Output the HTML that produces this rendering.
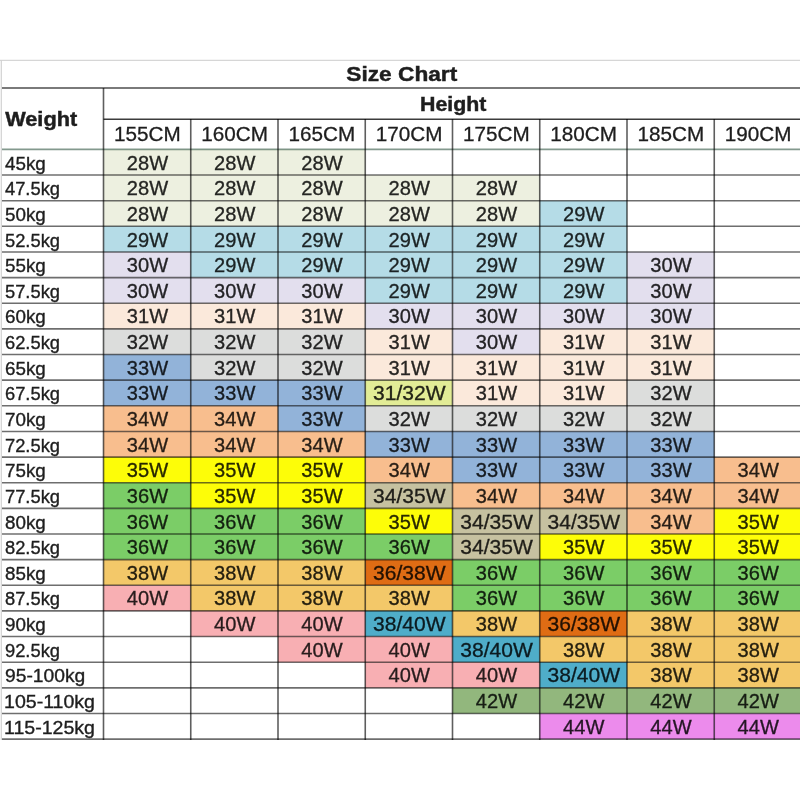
<!DOCTYPE html>
<html><head><meta charset="utf-8"><title>Size Chart</title>
<style>
html,body{margin:0;padding:0;background:#fff;}
body{width:800px;height:800px;overflow:hidden;}
svg{display:block;filter:blur(0.35px);}
text{font-family:"Liberation Sans",Arial,sans-serif;fill:#1e1e1e;stroke:#1e1e1e;stroke-width:0.3px;}
.r{font-size:19.5px;}
.b{font-weight:bold;stroke-width:0.45px;}
</style></head><body>
<svg width="800" height="800" viewBox="0 0 800 800">
<rect x="0" y="0" width="800" height="800" fill="#fff"/>
<rect x="103.5" y="149.4" width="87.25" height="25.64" fill="#EDF0E0"/>
<rect x="190.75" y="149.4" width="87.25" height="25.64" fill="#EDF0E0"/>
<rect x="278.0" y="149.4" width="87.25" height="25.64" fill="#EDF0E0"/>
<rect x="103.5" y="175.04" width="87.25" height="25.64" fill="#EDF0E0"/>
<rect x="190.75" y="175.04" width="87.25" height="25.64" fill="#EDF0E0"/>
<rect x="278.0" y="175.04" width="87.25" height="25.64" fill="#EDF0E0"/>
<rect x="365.25" y="175.04" width="87.25" height="25.64" fill="#EDF0E0"/>
<rect x="452.5" y="175.04" width="87.25" height="25.64" fill="#EDF0E0"/>
<rect x="103.5" y="200.68" width="87.25" height="25.64" fill="#EDF0E0"/>
<rect x="190.75" y="200.68" width="87.25" height="25.64" fill="#EDF0E0"/>
<rect x="278.0" y="200.68" width="87.25" height="25.64" fill="#EDF0E0"/>
<rect x="365.25" y="200.68" width="87.25" height="25.64" fill="#EDF0E0"/>
<rect x="452.5" y="200.68" width="87.25" height="25.64" fill="#EDF0E0"/>
<rect x="539.75" y="200.68" width="87.25" height="25.64" fill="#B5DCE7"/>
<rect x="103.5" y="226.32" width="87.25" height="25.64" fill="#B5DCE7"/>
<rect x="190.75" y="226.32" width="87.25" height="25.64" fill="#B5DCE7"/>
<rect x="278.0" y="226.32" width="87.25" height="25.64" fill="#B5DCE7"/>
<rect x="365.25" y="226.32" width="87.25" height="25.64" fill="#B5DCE7"/>
<rect x="452.5" y="226.32" width="87.25" height="25.64" fill="#B5DCE7"/>
<rect x="539.75" y="226.32" width="87.25" height="25.64" fill="#B5DCE7"/>
<rect x="103.5" y="251.96" width="87.25" height="25.64" fill="#E3DFEE"/>
<rect x="190.75" y="251.96" width="87.25" height="25.64" fill="#B5DCE7"/>
<rect x="278.0" y="251.96" width="87.25" height="25.64" fill="#B5DCE7"/>
<rect x="365.25" y="251.96" width="87.25" height="25.64" fill="#B5DCE7"/>
<rect x="452.5" y="251.96" width="87.25" height="25.64" fill="#B5DCE7"/>
<rect x="539.75" y="251.96" width="87.25" height="25.64" fill="#B5DCE7"/>
<rect x="627.0" y="251.96" width="87.25" height="25.64" fill="#E3DFEE"/>
<rect x="103.5" y="277.6" width="87.25" height="25.64" fill="#E3DFEE"/>
<rect x="190.75" y="277.6" width="87.25" height="25.64" fill="#E3DFEE"/>
<rect x="278.0" y="277.6" width="87.25" height="25.64" fill="#E3DFEE"/>
<rect x="365.25" y="277.6" width="87.25" height="25.64" fill="#B5DCE7"/>
<rect x="452.5" y="277.6" width="87.25" height="25.64" fill="#B5DCE7"/>
<rect x="539.75" y="277.6" width="87.25" height="25.64" fill="#B5DCE7"/>
<rect x="627.0" y="277.6" width="87.25" height="25.64" fill="#E3DFEE"/>
<rect x="103.5" y="303.24" width="87.25" height="25.64" fill="#FBE9DB"/>
<rect x="190.75" y="303.24" width="87.25" height="25.64" fill="#FBE9DB"/>
<rect x="278.0" y="303.24" width="87.25" height="25.64" fill="#FBE9DB"/>
<rect x="365.25" y="303.24" width="87.25" height="25.64" fill="#E3DFEE"/>
<rect x="452.5" y="303.24" width="87.25" height="25.64" fill="#E3DFEE"/>
<rect x="539.75" y="303.24" width="87.25" height="25.64" fill="#E3DFEE"/>
<rect x="627.0" y="303.24" width="87.25" height="25.64" fill="#E3DFEE"/>
<rect x="103.5" y="328.88" width="87.25" height="25.64" fill="#DCDDDC"/>
<rect x="190.75" y="328.88" width="87.25" height="25.64" fill="#DCDDDC"/>
<rect x="278.0" y="328.88" width="87.25" height="25.64" fill="#DCDDDC"/>
<rect x="365.25" y="328.88" width="87.25" height="25.64" fill="#FBE9DB"/>
<rect x="452.5" y="328.88" width="87.25" height="25.64" fill="#E3DFEE"/>
<rect x="539.75" y="328.88" width="87.25" height="25.64" fill="#FBE9DB"/>
<rect x="627.0" y="328.88" width="87.25" height="25.64" fill="#FBE9DB"/>
<rect x="103.5" y="354.52" width="87.25" height="25.64" fill="#92B3D9"/>
<rect x="190.75" y="354.52" width="87.25" height="25.64" fill="#DCDDDC"/>
<rect x="278.0" y="354.52" width="87.25" height="25.64" fill="#DCDDDC"/>
<rect x="365.25" y="354.52" width="87.25" height="25.64" fill="#FBE9DB"/>
<rect x="452.5" y="354.52" width="87.25" height="25.64" fill="#FBE9DB"/>
<rect x="539.75" y="354.52" width="87.25" height="25.64" fill="#FBE9DB"/>
<rect x="627.0" y="354.52" width="87.25" height="25.64" fill="#FBE9DB"/>
<rect x="103.5" y="380.16" width="87.25" height="25.64" fill="#92B3D9"/>
<rect x="190.75" y="380.16" width="87.25" height="25.64" fill="#92B3D9"/>
<rect x="278.0" y="380.16" width="87.25" height="25.64" fill="#92B3D9"/>
<rect x="365.25" y="380.16" width="87.25" height="25.64" fill="#E2EC96"/>
<rect x="452.5" y="380.16" width="87.25" height="25.64" fill="#FBE9DB"/>
<rect x="539.75" y="380.16" width="87.25" height="25.64" fill="#FBE9DB"/>
<rect x="627.0" y="380.16" width="87.25" height="25.64" fill="#DCDDDC"/>
<rect x="103.5" y="405.8" width="87.25" height="25.64" fill="#F8BE8E"/>
<rect x="190.75" y="405.8" width="87.25" height="25.64" fill="#F8BE8E"/>
<rect x="278.0" y="405.8" width="87.25" height="25.64" fill="#92B3D9"/>
<rect x="365.25" y="405.8" width="87.25" height="25.64" fill="#DCDDDC"/>
<rect x="452.5" y="405.8" width="87.25" height="25.64" fill="#DCDDDC"/>
<rect x="539.75" y="405.8" width="87.25" height="25.64" fill="#DCDDDC"/>
<rect x="627.0" y="405.8" width="87.25" height="25.64" fill="#DCDDDC"/>
<rect x="103.5" y="431.44" width="87.25" height="25.64" fill="#F8BE8E"/>
<rect x="190.75" y="431.44" width="87.25" height="25.64" fill="#F8BE8E"/>
<rect x="278.0" y="431.44" width="87.25" height="25.64" fill="#F8BE8E"/>
<rect x="365.25" y="431.44" width="87.25" height="25.64" fill="#92B3D9"/>
<rect x="452.5" y="431.44" width="87.25" height="25.64" fill="#92B3D9"/>
<rect x="539.75" y="431.44" width="87.25" height="25.64" fill="#92B3D9"/>
<rect x="627.0" y="431.44" width="87.25" height="25.64" fill="#92B3D9"/>
<rect x="103.5" y="457.08" width="87.25" height="25.64" fill="#FDFD08"/>
<rect x="190.75" y="457.08" width="87.25" height="25.64" fill="#FDFD08"/>
<rect x="278.0" y="457.08" width="87.25" height="25.64" fill="#FDFD08"/>
<rect x="365.25" y="457.08" width="87.25" height="25.64" fill="#F8BE8E"/>
<rect x="452.5" y="457.08" width="87.25" height="25.64" fill="#92B3D9"/>
<rect x="539.75" y="457.08" width="87.25" height="25.64" fill="#92B3D9"/>
<rect x="627.0" y="457.08" width="87.25" height="25.64" fill="#92B3D9"/>
<rect x="714.25" y="457.08" width="87.25" height="25.64" fill="#F8BE8E"/>
<rect x="103.5" y="482.72" width="87.25" height="25.64" fill="#7BCD67"/>
<rect x="190.75" y="482.72" width="87.25" height="25.64" fill="#FDFD08"/>
<rect x="278.0" y="482.72" width="87.25" height="25.64" fill="#FDFD08"/>
<rect x="365.25" y="482.72" width="87.25" height="25.64" fill="#C6C1A0"/>
<rect x="452.5" y="482.72" width="87.25" height="25.64" fill="#F8BE8E"/>
<rect x="539.75" y="482.72" width="87.25" height="25.64" fill="#F8BE8E"/>
<rect x="627.0" y="482.72" width="87.25" height="25.64" fill="#F8BE8E"/>
<rect x="714.25" y="482.72" width="87.25" height="25.64" fill="#F8BE8E"/>
<rect x="103.5" y="508.36" width="87.25" height="25.64" fill="#7BCD67"/>
<rect x="190.75" y="508.36" width="87.25" height="25.64" fill="#7BCD67"/>
<rect x="278.0" y="508.36" width="87.25" height="25.64" fill="#7BCD67"/>
<rect x="365.25" y="508.36" width="87.25" height="25.64" fill="#FDFD08"/>
<rect x="452.5" y="508.36" width="87.25" height="25.64" fill="#C6C1A0"/>
<rect x="539.75" y="508.36" width="87.25" height="25.64" fill="#C6C1A0"/>
<rect x="627.0" y="508.36" width="87.25" height="25.64" fill="#F8BE8E"/>
<rect x="714.25" y="508.36" width="87.25" height="25.64" fill="#FDFD08"/>
<rect x="103.5" y="534.0" width="87.25" height="25.64" fill="#7BCD67"/>
<rect x="190.75" y="534.0" width="87.25" height="25.64" fill="#7BCD67"/>
<rect x="278.0" y="534.0" width="87.25" height="25.64" fill="#7BCD67"/>
<rect x="365.25" y="534.0" width="87.25" height="25.64" fill="#7BCD67"/>
<rect x="452.5" y="534.0" width="87.25" height="25.64" fill="#C6C1A0"/>
<rect x="539.75" y="534.0" width="87.25" height="25.64" fill="#FDFD08"/>
<rect x="627.0" y="534.0" width="87.25" height="25.64" fill="#FDFD08"/>
<rect x="714.25" y="534.0" width="87.25" height="25.64" fill="#FDFD08"/>
<rect x="103.5" y="559.64" width="87.25" height="25.64" fill="#F3C869"/>
<rect x="190.75" y="559.64" width="87.25" height="25.64" fill="#F3C869"/>
<rect x="278.0" y="559.64" width="87.25" height="25.64" fill="#F3C869"/>
<rect x="365.25" y="559.64" width="87.25" height="25.64" fill="#DF6C14"/>
<rect x="452.5" y="559.64" width="87.25" height="25.64" fill="#7BCD67"/>
<rect x="539.75" y="559.64" width="87.25" height="25.64" fill="#7BCD67"/>
<rect x="627.0" y="559.64" width="87.25" height="25.64" fill="#7BCD67"/>
<rect x="714.25" y="559.64" width="87.25" height="25.64" fill="#7BCD67"/>
<rect x="103.5" y="585.28" width="87.25" height="25.64" fill="#F8AFB3"/>
<rect x="190.75" y="585.28" width="87.25" height="25.64" fill="#F3C869"/>
<rect x="278.0" y="585.28" width="87.25" height="25.64" fill="#F3C869"/>
<rect x="365.25" y="585.28" width="87.25" height="25.64" fill="#F3C869"/>
<rect x="452.5" y="585.28" width="87.25" height="25.64" fill="#7BCD67"/>
<rect x="539.75" y="585.28" width="87.25" height="25.64" fill="#7BCD67"/>
<rect x="627.0" y="585.28" width="87.25" height="25.64" fill="#7BCD67"/>
<rect x="714.25" y="585.28" width="87.25" height="25.64" fill="#7BCD67"/>
<rect x="190.75" y="610.92" width="87.25" height="25.64" fill="#F8AFB3"/>
<rect x="278.0" y="610.92" width="87.25" height="25.64" fill="#F8AFB3"/>
<rect x="365.25" y="610.92" width="87.25" height="25.64" fill="#4FADC9"/>
<rect x="452.5" y="610.92" width="87.25" height="25.64" fill="#F3C869"/>
<rect x="539.75" y="610.92" width="87.25" height="25.64" fill="#DF6C14"/>
<rect x="627.0" y="610.92" width="87.25" height="25.64" fill="#F3C869"/>
<rect x="714.25" y="610.92" width="87.25" height="25.64" fill="#F3C869"/>
<rect x="278.0" y="636.56" width="87.25" height="25.64" fill="#F8AFB3"/>
<rect x="365.25" y="636.56" width="87.25" height="25.64" fill="#F8AFB3"/>
<rect x="452.5" y="636.56" width="87.25" height="25.64" fill="#4FADC9"/>
<rect x="539.75" y="636.56" width="87.25" height="25.64" fill="#F3C869"/>
<rect x="627.0" y="636.56" width="87.25" height="25.64" fill="#F3C869"/>
<rect x="714.25" y="636.56" width="87.25" height="25.64" fill="#F3C869"/>
<rect x="365.25" y="662.2" width="87.25" height="25.64" fill="#F8AFB3"/>
<rect x="452.5" y="662.2" width="87.25" height="25.64" fill="#F8AFB3"/>
<rect x="539.75" y="662.2" width="87.25" height="25.64" fill="#4FADC9"/>
<rect x="627.0" y="662.2" width="87.25" height="25.64" fill="#F3C869"/>
<rect x="714.25" y="662.2" width="87.25" height="25.64" fill="#F3C869"/>
<rect x="452.5" y="687.84" width="87.25" height="25.64" fill="#92B77D"/>
<rect x="539.75" y="687.84" width="87.25" height="25.64" fill="#92B77D"/>
<rect x="627.0" y="687.84" width="87.25" height="25.64" fill="#92B77D"/>
<rect x="714.25" y="687.84" width="87.25" height="25.64" fill="#92B77D"/>
<rect x="539.75" y="713.48" width="87.25" height="25.64" fill="#EC8BEC"/>
<rect x="627.0" y="713.48" width="87.25" height="25.64" fill="#EC8BEC"/>
<rect x="714.25" y="713.48" width="87.25" height="25.64" fill="#EC8BEC"/>
<line x1="0" y1="60.4" x2="800" y2="60.4" stroke="#d6d6d6" stroke-width="1.2"/>
<line x1="1.3" y1="60" x2="1.3" y2="740" stroke="#d2d2d2" stroke-width="1.2"/>
<line x1="2" y1="87.9" x2="800" y2="87.9" stroke="#7a7a7a" stroke-width="2"/>
<line x1="103.5" y1="119.2" x2="800" y2="119.2" stroke="#3c3c3c" stroke-width="1.4"/>
<line x1="2" y1="149.4" x2="800" y2="149.4" stroke="rgba(30,70,50,0.55)" stroke-width="1.6"/>
<line x1="2" y1="175.04" x2="800" y2="175.04" stroke="rgba(0,0,0,0.57)" stroke-width="1.6"/>
<line x1="2" y1="200.68" x2="800" y2="200.68" stroke="rgba(0,0,0,0.57)" stroke-width="1.6"/>
<line x1="2" y1="226.32" x2="800" y2="226.32" stroke="rgba(0,0,0,0.57)" stroke-width="1.6"/>
<line x1="2" y1="251.96" x2="800" y2="251.96" stroke="rgba(0,0,0,0.57)" stroke-width="1.6"/>
<line x1="2" y1="277.6" x2="800" y2="277.6" stroke="rgba(0,0,0,0.57)" stroke-width="1.6"/>
<line x1="2" y1="303.24" x2="800" y2="303.24" stroke="rgba(0,0,0,0.57)" stroke-width="1.6"/>
<line x1="2" y1="328.88" x2="800" y2="328.88" stroke="rgba(0,0,0,0.57)" stroke-width="1.6"/>
<line x1="2" y1="354.52" x2="800" y2="354.52" stroke="rgba(0,0,0,0.57)" stroke-width="1.6"/>
<line x1="2" y1="380.16" x2="800" y2="380.16" stroke="rgba(0,0,0,0.57)" stroke-width="1.6"/>
<line x1="2" y1="405.8" x2="800" y2="405.8" stroke="rgba(0,0,0,0.57)" stroke-width="1.6"/>
<line x1="2" y1="431.44" x2="800" y2="431.44" stroke="rgba(0,0,0,0.57)" stroke-width="1.6"/>
<line x1="2" y1="457.08" x2="800" y2="457.08" stroke="rgba(0,0,0,0.57)" stroke-width="1.6"/>
<line x1="2" y1="482.72" x2="800" y2="482.72" stroke="rgba(0,0,0,0.57)" stroke-width="1.6"/>
<line x1="2" y1="508.36" x2="800" y2="508.36" stroke="rgba(0,0,0,0.57)" stroke-width="1.6"/>
<line x1="2" y1="534.0" x2="800" y2="534.0" stroke="rgba(0,0,0,0.57)" stroke-width="1.6"/>
<line x1="2" y1="559.64" x2="800" y2="559.64" stroke="rgba(0,0,0,0.57)" stroke-width="1.6"/>
<line x1="2" y1="585.28" x2="800" y2="585.28" stroke="rgba(0,0,0,0.57)" stroke-width="1.6"/>
<line x1="2" y1="610.92" x2="800" y2="610.92" stroke="rgba(0,0,0,0.57)" stroke-width="1.6"/>
<line x1="2" y1="636.56" x2="800" y2="636.56" stroke="rgba(0,0,0,0.57)" stroke-width="1.6"/>
<line x1="2" y1="662.2" x2="800" y2="662.2" stroke="rgba(0,0,0,0.57)" stroke-width="1.6"/>
<line x1="2" y1="687.84" x2="800" y2="687.84" stroke="rgba(0,0,0,0.57)" stroke-width="1.6"/>
<line x1="2" y1="713.48" x2="800" y2="713.48" stroke="rgba(0,0,0,0.57)" stroke-width="1.6"/>
<line x1="2" y1="739.12" x2="800" y2="739.12" stroke="rgba(0,0,0,0.57)" stroke-width="1.6"/>
<line x1="103.5" y1="88" x2="103.5" y2="739.92" stroke="rgba(0,0,0,0.63)" stroke-width="1.6"/>
<line x1="190.75" y1="119" x2="190.75" y2="739.92" stroke="rgba(0,0,0,0.63)" stroke-width="1.6"/>
<line x1="278.0" y1="119" x2="278.0" y2="739.92" stroke="rgba(0,0,0,0.63)" stroke-width="1.6"/>
<line x1="365.25" y1="119" x2="365.25" y2="739.92" stroke="rgba(0,0,0,0.63)" stroke-width="1.6"/>
<line x1="452.5" y1="119" x2="452.5" y2="739.92" stroke="rgba(0,0,0,0.63)" stroke-width="1.6"/>
<line x1="539.75" y1="119" x2="539.75" y2="739.92" stroke="rgba(0,0,0,0.63)" stroke-width="1.6"/>
<line x1="627.0" y1="119" x2="627.0" y2="739.92" stroke="rgba(0,0,0,0.63)" stroke-width="1.6"/>
<line x1="714.25" y1="119" x2="714.25" y2="739.92" stroke="rgba(0,0,0,0.63)" stroke-width="1.6"/>
<text x="147.53" y="169.6" class="r" style="fill:#252623;stroke:#252623" text-anchor="middle" textLength="41.3" lengthAdjust="spacingAndGlyphs">28W</text>
<text x="234.78" y="169.6" class="r" style="fill:#252623;stroke:#252623" text-anchor="middle" textLength="41.3" lengthAdjust="spacingAndGlyphs">28W</text>
<text x="322.02" y="169.6" class="r" style="fill:#252623;stroke:#252623" text-anchor="middle" textLength="41.3" lengthAdjust="spacingAndGlyphs">28W</text>
<text x="147.53" y="195.24" class="r" style="fill:#252623;stroke:#252623" text-anchor="middle" textLength="41.3" lengthAdjust="spacingAndGlyphs">28W</text>
<text x="234.78" y="195.24" class="r" style="fill:#252623;stroke:#252623" text-anchor="middle" textLength="41.3" lengthAdjust="spacingAndGlyphs">28W</text>
<text x="322.02" y="195.24" class="r" style="fill:#252623;stroke:#252623" text-anchor="middle" textLength="41.3" lengthAdjust="spacingAndGlyphs">28W</text>
<text x="409.27" y="195.24" class="r" style="fill:#252623;stroke:#252623" text-anchor="middle" textLength="41.3" lengthAdjust="spacingAndGlyphs">28W</text>
<text x="496.52" y="195.24" class="r" style="fill:#252623;stroke:#252623" text-anchor="middle" textLength="41.3" lengthAdjust="spacingAndGlyphs">28W</text>
<text x="147.53" y="220.88" class="r" style="fill:#252623;stroke:#252623" text-anchor="middle" textLength="41.3" lengthAdjust="spacingAndGlyphs">28W</text>
<text x="234.78" y="220.88" class="r" style="fill:#252623;stroke:#252623" text-anchor="middle" textLength="41.3" lengthAdjust="spacingAndGlyphs">28W</text>
<text x="322.02" y="220.88" class="r" style="fill:#252623;stroke:#252623" text-anchor="middle" textLength="41.3" lengthAdjust="spacingAndGlyphs">28W</text>
<text x="409.27" y="220.88" class="r" style="fill:#252623;stroke:#252623" text-anchor="middle" textLength="41.3" lengthAdjust="spacingAndGlyphs">28W</text>
<text x="496.52" y="220.88" class="r" style="fill:#252623;stroke:#252623" text-anchor="middle" textLength="41.3" lengthAdjust="spacingAndGlyphs">28W</text>
<text x="583.77" y="220.88" class="r" style="fill:#1c2324;stroke:#1c2324" text-anchor="middle" textLength="41.3" lengthAdjust="spacingAndGlyphs">29W</text>
<text x="147.53" y="246.52" class="r" style="fill:#1c2324;stroke:#1c2324" text-anchor="middle" textLength="41.3" lengthAdjust="spacingAndGlyphs">29W</text>
<text x="234.78" y="246.52" class="r" style="fill:#1c2324;stroke:#1c2324" text-anchor="middle" textLength="41.3" lengthAdjust="spacingAndGlyphs">29W</text>
<text x="322.02" y="246.52" class="r" style="fill:#1c2324;stroke:#1c2324" text-anchor="middle" textLength="41.3" lengthAdjust="spacingAndGlyphs">29W</text>
<text x="409.27" y="246.52" class="r" style="fill:#1c2324;stroke:#1c2324" text-anchor="middle" textLength="41.3" lengthAdjust="spacingAndGlyphs">29W</text>
<text x="496.52" y="246.52" class="r" style="fill:#1c2324;stroke:#1c2324" text-anchor="middle" textLength="41.3" lengthAdjust="spacingAndGlyphs">29W</text>
<text x="583.77" y="246.52" class="r" style="fill:#1c2324;stroke:#1c2324" text-anchor="middle" textLength="41.3" lengthAdjust="spacingAndGlyphs">29W</text>
<text x="147.53" y="272.16" class="r" style="fill:#242326;stroke:#242326" text-anchor="middle" textLength="41.3" lengthAdjust="spacingAndGlyphs">30W</text>
<text x="234.78" y="272.16" class="r" style="fill:#1c2324;stroke:#1c2324" text-anchor="middle" textLength="41.3" lengthAdjust="spacingAndGlyphs">29W</text>
<text x="322.02" y="272.16" class="r" style="fill:#1c2324;stroke:#1c2324" text-anchor="middle" textLength="41.3" lengthAdjust="spacingAndGlyphs">29W</text>
<text x="409.27" y="272.16" class="r" style="fill:#1c2324;stroke:#1c2324" text-anchor="middle" textLength="41.3" lengthAdjust="spacingAndGlyphs">29W</text>
<text x="496.52" y="272.16" class="r" style="fill:#1c2324;stroke:#1c2324" text-anchor="middle" textLength="41.3" lengthAdjust="spacingAndGlyphs">29W</text>
<text x="583.77" y="272.16" class="r" style="fill:#1c2324;stroke:#1c2324" text-anchor="middle" textLength="41.3" lengthAdjust="spacingAndGlyphs">29W</text>
<text x="671.02" y="272.16" class="r" style="fill:#242326;stroke:#242326" text-anchor="middle" textLength="41.3" lengthAdjust="spacingAndGlyphs">30W</text>
<text x="147.53" y="297.8" class="r" style="fill:#242326;stroke:#242326" text-anchor="middle" textLength="41.3" lengthAdjust="spacingAndGlyphs">30W</text>
<text x="234.78" y="297.8" class="r" style="fill:#242326;stroke:#242326" text-anchor="middle" textLength="41.3" lengthAdjust="spacingAndGlyphs">30W</text>
<text x="322.02" y="297.8" class="r" style="fill:#242326;stroke:#242326" text-anchor="middle" textLength="41.3" lengthAdjust="spacingAndGlyphs">30W</text>
<text x="409.27" y="297.8" class="r" style="fill:#1c2324;stroke:#1c2324" text-anchor="middle" textLength="41.3" lengthAdjust="spacingAndGlyphs">29W</text>
<text x="496.52" y="297.8" class="r" style="fill:#1c2324;stroke:#1c2324" text-anchor="middle" textLength="41.3" lengthAdjust="spacingAndGlyphs">29W</text>
<text x="583.77" y="297.8" class="r" style="fill:#1c2324;stroke:#1c2324" text-anchor="middle" textLength="41.3" lengthAdjust="spacingAndGlyphs">29W</text>
<text x="671.02" y="297.8" class="r" style="fill:#242326;stroke:#242326" text-anchor="middle" textLength="41.3" lengthAdjust="spacingAndGlyphs">30W</text>
<text x="147.53" y="323.44" class="r" style="fill:#282523;stroke:#282523" text-anchor="middle" textLength="41.3" lengthAdjust="spacingAndGlyphs">31W</text>
<text x="234.78" y="323.44" class="r" style="fill:#282523;stroke:#282523" text-anchor="middle" textLength="41.3" lengthAdjust="spacingAndGlyphs">31W</text>
<text x="322.02" y="323.44" class="r" style="fill:#282523;stroke:#282523" text-anchor="middle" textLength="41.3" lengthAdjust="spacingAndGlyphs">31W</text>
<text x="409.27" y="323.44" class="r" style="fill:#242326;stroke:#242326" text-anchor="middle" textLength="41.3" lengthAdjust="spacingAndGlyphs">30W</text>
<text x="496.52" y="323.44" class="r" style="fill:#242326;stroke:#242326" text-anchor="middle" textLength="41.3" lengthAdjust="spacingAndGlyphs">30W</text>
<text x="583.77" y="323.44" class="r" style="fill:#242326;stroke:#242326" text-anchor="middle" textLength="41.3" lengthAdjust="spacingAndGlyphs">30W</text>
<text x="671.02" y="323.44" class="r" style="fill:#242326;stroke:#242326" text-anchor="middle" textLength="41.3" lengthAdjust="spacingAndGlyphs">30W</text>
<text x="147.53" y="349.08" class="r" style="fill:#232323;stroke:#232323" text-anchor="middle" textLength="41.3" lengthAdjust="spacingAndGlyphs">32W</text>
<text x="234.78" y="349.08" class="r" style="fill:#232323;stroke:#232323" text-anchor="middle" textLength="41.3" lengthAdjust="spacingAndGlyphs">32W</text>
<text x="322.02" y="349.08" class="r" style="fill:#232323;stroke:#232323" text-anchor="middle" textLength="41.3" lengthAdjust="spacingAndGlyphs">32W</text>
<text x="409.27" y="349.08" class="r" style="fill:#282523;stroke:#282523" text-anchor="middle" textLength="41.3" lengthAdjust="spacingAndGlyphs">31W</text>
<text x="496.52" y="349.08" class="r" style="fill:#242326;stroke:#242326" text-anchor="middle" textLength="41.3" lengthAdjust="spacingAndGlyphs">30W</text>
<text x="583.77" y="349.08" class="r" style="fill:#282523;stroke:#282523" text-anchor="middle" textLength="41.3" lengthAdjust="spacingAndGlyphs">31W</text>
<text x="671.02" y="349.08" class="r" style="fill:#282523;stroke:#282523" text-anchor="middle" textLength="41.3" lengthAdjust="spacingAndGlyphs">31W</text>
<text x="147.53" y="374.72" class="r" style="fill:#171c22;stroke:#171c22" text-anchor="middle" textLength="41.3" lengthAdjust="spacingAndGlyphs">33W</text>
<text x="234.78" y="374.72" class="r" style="fill:#232323;stroke:#232323" text-anchor="middle" textLength="41.3" lengthAdjust="spacingAndGlyphs">32W</text>
<text x="322.02" y="374.72" class="r" style="fill:#232323;stroke:#232323" text-anchor="middle" textLength="41.3" lengthAdjust="spacingAndGlyphs">32W</text>
<text x="409.27" y="374.72" class="r" style="fill:#282523;stroke:#282523" text-anchor="middle" textLength="41.3" lengthAdjust="spacingAndGlyphs">31W</text>
<text x="496.52" y="374.72" class="r" style="fill:#282523;stroke:#282523" text-anchor="middle" textLength="41.3" lengthAdjust="spacingAndGlyphs">31W</text>
<text x="583.77" y="374.72" class="r" style="fill:#282523;stroke:#282523" text-anchor="middle" textLength="41.3" lengthAdjust="spacingAndGlyphs">31W</text>
<text x="671.02" y="374.72" class="r" style="fill:#282523;stroke:#282523" text-anchor="middle" textLength="41.3" lengthAdjust="spacingAndGlyphs">31W</text>
<text x="147.53" y="400.36" class="r" style="fill:#171c22;stroke:#171c22" text-anchor="middle" textLength="41.3" lengthAdjust="spacingAndGlyphs">33W</text>
<text x="234.78" y="400.36" class="r" style="fill:#171c22;stroke:#171c22" text-anchor="middle" textLength="41.3" lengthAdjust="spacingAndGlyphs">33W</text>
<text x="322.02" y="400.36" class="r" style="fill:#171c22;stroke:#171c22" text-anchor="middle" textLength="41.3" lengthAdjust="spacingAndGlyphs">33W</text>
<text x="409.27" y="400.36" class="r" style="fill:#242518;stroke:#242518" text-anchor="middle" textLength="72.5" lengthAdjust="spacingAndGlyphs">31/32W</text>
<text x="496.52" y="400.36" class="r" style="fill:#282523;stroke:#282523" text-anchor="middle" textLength="41.3" lengthAdjust="spacingAndGlyphs">31W</text>
<text x="583.77" y="400.36" class="r" style="fill:#282523;stroke:#282523" text-anchor="middle" textLength="41.3" lengthAdjust="spacingAndGlyphs">31W</text>
<text x="671.02" y="400.36" class="r" style="fill:#232323;stroke:#232323" text-anchor="middle" textLength="41.3" lengthAdjust="spacingAndGlyphs">32W</text>
<text x="147.53" y="426.0" class="r" style="fill:#271e16;stroke:#271e16" text-anchor="middle" textLength="41.3" lengthAdjust="spacingAndGlyphs">34W</text>
<text x="234.78" y="426.0" class="r" style="fill:#271e16;stroke:#271e16" text-anchor="middle" textLength="41.3" lengthAdjust="spacingAndGlyphs">34W</text>
<text x="322.02" y="426.0" class="r" style="fill:#171c22;stroke:#171c22" text-anchor="middle" textLength="41.3" lengthAdjust="spacingAndGlyphs">33W</text>
<text x="409.27" y="426.0" class="r" style="fill:#232323;stroke:#232323" text-anchor="middle" textLength="41.3" lengthAdjust="spacingAndGlyphs">32W</text>
<text x="496.52" y="426.0" class="r" style="fill:#232323;stroke:#232323" text-anchor="middle" textLength="41.3" lengthAdjust="spacingAndGlyphs">32W</text>
<text x="583.77" y="426.0" class="r" style="fill:#232323;stroke:#232323" text-anchor="middle" textLength="41.3" lengthAdjust="spacingAndGlyphs">32W</text>
<text x="671.02" y="426.0" class="r" style="fill:#232323;stroke:#232323" text-anchor="middle" textLength="41.3" lengthAdjust="spacingAndGlyphs">32W</text>
<text x="147.53" y="451.64" class="r" style="fill:#271e16;stroke:#271e16" text-anchor="middle" textLength="41.3" lengthAdjust="spacingAndGlyphs">34W</text>
<text x="234.78" y="451.64" class="r" style="fill:#271e16;stroke:#271e16" text-anchor="middle" textLength="41.3" lengthAdjust="spacingAndGlyphs">34W</text>
<text x="322.02" y="451.64" class="r" style="fill:#271e16;stroke:#271e16" text-anchor="middle" textLength="41.3" lengthAdjust="spacingAndGlyphs">34W</text>
<text x="409.27" y="451.64" class="r" style="fill:#171c22;stroke:#171c22" text-anchor="middle" textLength="41.3" lengthAdjust="spacingAndGlyphs">33W</text>
<text x="496.52" y="451.64" class="r" style="fill:#171c22;stroke:#171c22" text-anchor="middle" textLength="41.3" lengthAdjust="spacingAndGlyphs">33W</text>
<text x="583.77" y="451.64" class="r" style="fill:#171c22;stroke:#171c22" text-anchor="middle" textLength="41.3" lengthAdjust="spacingAndGlyphs">33W</text>
<text x="671.02" y="451.64" class="r" style="fill:#171c22;stroke:#171c22" text-anchor="middle" textLength="41.3" lengthAdjust="spacingAndGlyphs">33W</text>
<text x="147.53" y="477.28" class="r" style="fill:#282801;stroke:#282801" text-anchor="middle" textLength="41.3" lengthAdjust="spacingAndGlyphs">35W</text>
<text x="234.78" y="477.28" class="r" style="fill:#282801;stroke:#282801" text-anchor="middle" textLength="41.3" lengthAdjust="spacingAndGlyphs">35W</text>
<text x="322.02" y="477.28" class="r" style="fill:#282801;stroke:#282801" text-anchor="middle" textLength="41.3" lengthAdjust="spacingAndGlyphs">35W</text>
<text x="409.27" y="477.28" class="r" style="fill:#271e16;stroke:#271e16" text-anchor="middle" textLength="41.3" lengthAdjust="spacingAndGlyphs">34W</text>
<text x="496.52" y="477.28" class="r" style="fill:#171c22;stroke:#171c22" text-anchor="middle" textLength="41.3" lengthAdjust="spacingAndGlyphs">33W</text>
<text x="583.77" y="477.28" class="r" style="fill:#171c22;stroke:#171c22" text-anchor="middle" textLength="41.3" lengthAdjust="spacingAndGlyphs">33W</text>
<text x="671.02" y="477.28" class="r" style="fill:#171c22;stroke:#171c22" text-anchor="middle" textLength="41.3" lengthAdjust="spacingAndGlyphs">33W</text>
<text x="758.27" y="477.28" class="r" style="fill:#271e16;stroke:#271e16" text-anchor="middle" textLength="41.3" lengthAdjust="spacingAndGlyphs">34W</text>
<text x="147.53" y="502.92" class="r" style="fill:#132010;stroke:#132010" text-anchor="middle" textLength="41.3" lengthAdjust="spacingAndGlyphs">36W</text>
<text x="234.78" y="502.92" class="r" style="fill:#282801;stroke:#282801" text-anchor="middle" textLength="41.3" lengthAdjust="spacingAndGlyphs">35W</text>
<text x="322.02" y="502.92" class="r" style="fill:#282801;stroke:#282801" text-anchor="middle" textLength="41.3" lengthAdjust="spacingAndGlyphs">35W</text>
<text x="409.27" y="502.92" class="r" style="fill:#1f1e19;stroke:#1f1e19" text-anchor="middle" textLength="72.5" lengthAdjust="spacingAndGlyphs">34/35W</text>
<text x="496.52" y="502.92" class="r" style="fill:#271e16;stroke:#271e16" text-anchor="middle" textLength="41.3" lengthAdjust="spacingAndGlyphs">34W</text>
<text x="583.77" y="502.92" class="r" style="fill:#271e16;stroke:#271e16" text-anchor="middle" textLength="41.3" lengthAdjust="spacingAndGlyphs">34W</text>
<text x="671.02" y="502.92" class="r" style="fill:#271e16;stroke:#271e16" text-anchor="middle" textLength="41.3" lengthAdjust="spacingAndGlyphs">34W</text>
<text x="758.27" y="502.92" class="r" style="fill:#271e16;stroke:#271e16" text-anchor="middle" textLength="41.3" lengthAdjust="spacingAndGlyphs">34W</text>
<text x="147.53" y="528.56" class="r" style="fill:#132010;stroke:#132010" text-anchor="middle" textLength="41.3" lengthAdjust="spacingAndGlyphs">36W</text>
<text x="234.78" y="528.56" class="r" style="fill:#132010;stroke:#132010" text-anchor="middle" textLength="41.3" lengthAdjust="spacingAndGlyphs">36W</text>
<text x="322.02" y="528.56" class="r" style="fill:#132010;stroke:#132010" text-anchor="middle" textLength="41.3" lengthAdjust="spacingAndGlyphs">36W</text>
<text x="409.27" y="528.56" class="r" style="fill:#282801;stroke:#282801" text-anchor="middle" textLength="41.3" lengthAdjust="spacingAndGlyphs">35W</text>
<text x="496.52" y="528.56" class="r" style="fill:#1f1e19;stroke:#1f1e19" text-anchor="middle" textLength="72.5" lengthAdjust="spacingAndGlyphs">34/35W</text>
<text x="583.77" y="528.56" class="r" style="fill:#1f1e19;stroke:#1f1e19" text-anchor="middle" textLength="72.5" lengthAdjust="spacingAndGlyphs">34/35W</text>
<text x="671.02" y="528.56" class="r" style="fill:#271e16;stroke:#271e16" text-anchor="middle" textLength="41.3" lengthAdjust="spacingAndGlyphs">34W</text>
<text x="758.27" y="528.56" class="r" style="fill:#282801;stroke:#282801" text-anchor="middle" textLength="41.3" lengthAdjust="spacingAndGlyphs">35W</text>
<text x="147.53" y="554.2" class="r" style="fill:#132010;stroke:#132010" text-anchor="middle" textLength="41.3" lengthAdjust="spacingAndGlyphs">36W</text>
<text x="234.78" y="554.2" class="r" style="fill:#132010;stroke:#132010" text-anchor="middle" textLength="41.3" lengthAdjust="spacingAndGlyphs">36W</text>
<text x="322.02" y="554.2" class="r" style="fill:#132010;stroke:#132010" text-anchor="middle" textLength="41.3" lengthAdjust="spacingAndGlyphs">36W</text>
<text x="409.27" y="554.2" class="r" style="fill:#132010;stroke:#132010" text-anchor="middle" textLength="41.3" lengthAdjust="spacingAndGlyphs">36W</text>
<text x="496.52" y="554.2" class="r" style="fill:#1f1e19;stroke:#1f1e19" text-anchor="middle" textLength="72.5" lengthAdjust="spacingAndGlyphs">34/35W</text>
<text x="583.77" y="554.2" class="r" style="fill:#282801;stroke:#282801" text-anchor="middle" textLength="41.3" lengthAdjust="spacingAndGlyphs">35W</text>
<text x="671.02" y="554.2" class="r" style="fill:#282801;stroke:#282801" text-anchor="middle" textLength="41.3" lengthAdjust="spacingAndGlyphs">35W</text>
<text x="758.27" y="554.2" class="r" style="fill:#282801;stroke:#282801" text-anchor="middle" textLength="41.3" lengthAdjust="spacingAndGlyphs">35W</text>
<text x="147.53" y="579.84" class="r" style="fill:#262010;stroke:#262010" text-anchor="middle" textLength="41.3" lengthAdjust="spacingAndGlyphs">38W</text>
<text x="234.78" y="579.84" class="r" style="fill:#262010;stroke:#262010" text-anchor="middle" textLength="41.3" lengthAdjust="spacingAndGlyphs">38W</text>
<text x="322.02" y="579.84" class="r" style="fill:#262010;stroke:#262010" text-anchor="middle" textLength="41.3" lengthAdjust="spacingAndGlyphs">38W</text>
<text x="409.27" y="579.84" class="r" style="fill:#231103;stroke:#231103" text-anchor="middle" textLength="72.5" lengthAdjust="spacingAndGlyphs">36/38W</text>
<text x="496.52" y="579.84" class="r" style="fill:#132010;stroke:#132010" text-anchor="middle" textLength="41.3" lengthAdjust="spacingAndGlyphs">36W</text>
<text x="583.77" y="579.84" class="r" style="fill:#132010;stroke:#132010" text-anchor="middle" textLength="41.3" lengthAdjust="spacingAndGlyphs">36W</text>
<text x="671.02" y="579.84" class="r" style="fill:#132010;stroke:#132010" text-anchor="middle" textLength="41.3" lengthAdjust="spacingAndGlyphs">36W</text>
<text x="758.27" y="579.84" class="r" style="fill:#132010;stroke:#132010" text-anchor="middle" textLength="41.3" lengthAdjust="spacingAndGlyphs">36W</text>
<text x="147.53" y="605.48" class="r" style="fill:#271c1c;stroke:#271c1c" text-anchor="middle" textLength="41.3" lengthAdjust="spacingAndGlyphs">40W</text>
<text x="234.78" y="605.48" class="r" style="fill:#262010;stroke:#262010" text-anchor="middle" textLength="41.3" lengthAdjust="spacingAndGlyphs">38W</text>
<text x="322.02" y="605.48" class="r" style="fill:#262010;stroke:#262010" text-anchor="middle" textLength="41.3" lengthAdjust="spacingAndGlyphs">38W</text>
<text x="409.27" y="605.48" class="r" style="fill:#262010;stroke:#262010" text-anchor="middle" textLength="41.3" lengthAdjust="spacingAndGlyphs">38W</text>
<text x="496.52" y="605.48" class="r" style="fill:#132010;stroke:#132010" text-anchor="middle" textLength="41.3" lengthAdjust="spacingAndGlyphs">36W</text>
<text x="583.77" y="605.48" class="r" style="fill:#132010;stroke:#132010" text-anchor="middle" textLength="41.3" lengthAdjust="spacingAndGlyphs">36W</text>
<text x="671.02" y="605.48" class="r" style="fill:#132010;stroke:#132010" text-anchor="middle" textLength="41.3" lengthAdjust="spacingAndGlyphs">36W</text>
<text x="758.27" y="605.48" class="r" style="fill:#132010;stroke:#132010" text-anchor="middle" textLength="41.3" lengthAdjust="spacingAndGlyphs">36W</text>
<text x="234.78" y="631.12" class="r" style="fill:#271c1c;stroke:#271c1c" text-anchor="middle" textLength="41.3" lengthAdjust="spacingAndGlyphs">40W</text>
<text x="322.02" y="631.12" class="r" style="fill:#271c1c;stroke:#271c1c" text-anchor="middle" textLength="41.3" lengthAdjust="spacingAndGlyphs">40W</text>
<text x="409.27" y="631.12" class="r" style="fill:#0c1b20;stroke:#0c1b20" text-anchor="middle" textLength="72.5" lengthAdjust="spacingAndGlyphs">38/40W</text>
<text x="496.52" y="631.12" class="r" style="fill:#262010;stroke:#262010" text-anchor="middle" textLength="41.3" lengthAdjust="spacingAndGlyphs">38W</text>
<text x="583.77" y="631.12" class="r" style="fill:#231103;stroke:#231103" text-anchor="middle" textLength="72.5" lengthAdjust="spacingAndGlyphs">36/38W</text>
<text x="671.02" y="631.12" class="r" style="fill:#262010;stroke:#262010" text-anchor="middle" textLength="41.3" lengthAdjust="spacingAndGlyphs">38W</text>
<text x="758.27" y="631.12" class="r" style="fill:#262010;stroke:#262010" text-anchor="middle" textLength="41.3" lengthAdjust="spacingAndGlyphs">38W</text>
<text x="322.02" y="656.76" class="r" style="fill:#271c1c;stroke:#271c1c" text-anchor="middle" textLength="41.3" lengthAdjust="spacingAndGlyphs">40W</text>
<text x="409.27" y="656.76" class="r" style="fill:#271c1c;stroke:#271c1c" text-anchor="middle" textLength="41.3" lengthAdjust="spacingAndGlyphs">40W</text>
<text x="496.52" y="656.76" class="r" style="fill:#0c1b20;stroke:#0c1b20" text-anchor="middle" textLength="72.5" lengthAdjust="spacingAndGlyphs">38/40W</text>
<text x="583.77" y="656.76" class="r" style="fill:#262010;stroke:#262010" text-anchor="middle" textLength="41.3" lengthAdjust="spacingAndGlyphs">38W</text>
<text x="671.02" y="656.76" class="r" style="fill:#262010;stroke:#262010" text-anchor="middle" textLength="41.3" lengthAdjust="spacingAndGlyphs">38W</text>
<text x="758.27" y="656.76" class="r" style="fill:#262010;stroke:#262010" text-anchor="middle" textLength="41.3" lengthAdjust="spacingAndGlyphs">38W</text>
<text x="409.27" y="682.4" class="r" style="fill:#271c1c;stroke:#271c1c" text-anchor="middle" textLength="41.3" lengthAdjust="spacingAndGlyphs">40W</text>
<text x="496.52" y="682.4" class="r" style="fill:#271c1c;stroke:#271c1c" text-anchor="middle" textLength="41.3" lengthAdjust="spacingAndGlyphs">40W</text>
<text x="583.77" y="682.4" class="r" style="fill:#0c1b20;stroke:#0c1b20" text-anchor="middle" textLength="72.5" lengthAdjust="spacingAndGlyphs">38/40W</text>
<text x="671.02" y="682.4" class="r" style="fill:#262010;stroke:#262010" text-anchor="middle" textLength="41.3" lengthAdjust="spacingAndGlyphs">38W</text>
<text x="758.27" y="682.4" class="r" style="fill:#262010;stroke:#262010" text-anchor="middle" textLength="41.3" lengthAdjust="spacingAndGlyphs">38W</text>
<text x="496.52" y="708.04" class="r" style="fill:#171d14;stroke:#171d14" text-anchor="middle" textLength="41.3" lengthAdjust="spacingAndGlyphs">42W</text>
<text x="583.77" y="708.04" class="r" style="fill:#171d14;stroke:#171d14" text-anchor="middle" textLength="41.3" lengthAdjust="spacingAndGlyphs">42W</text>
<text x="671.02" y="708.04" class="r" style="fill:#171d14;stroke:#171d14" text-anchor="middle" textLength="41.3" lengthAdjust="spacingAndGlyphs">42W</text>
<text x="758.27" y="708.04" class="r" style="fill:#171d14;stroke:#171d14" text-anchor="middle" textLength="41.3" lengthAdjust="spacingAndGlyphs">42W</text>
<text x="583.77" y="733.68" class="r" style="fill:#251625;stroke:#251625" text-anchor="middle" textLength="41.3" lengthAdjust="spacingAndGlyphs">44W</text>
<text x="671.02" y="733.68" class="r" style="fill:#251625;stroke:#251625" text-anchor="middle" textLength="41.3" lengthAdjust="spacingAndGlyphs">44W</text>
<text x="758.27" y="733.68" class="r" style="fill:#251625;stroke:#251625" text-anchor="middle" textLength="41.3" lengthAdjust="spacingAndGlyphs">44W</text>
<text x="5.0" y="169.6" class="r" style="font-size:18px;stroke-width:0.35px" textLength="40.8" lengthAdjust="spacingAndGlyphs">45kg</text>
<text x="5.0" y="195.24" class="r" style="font-size:18px;stroke-width:0.35px" textLength="55.0" lengthAdjust="spacingAndGlyphs">47.5kg</text>
<text x="5.0" y="220.88" class="r" style="font-size:18px;stroke-width:0.35px" textLength="40.8" lengthAdjust="spacingAndGlyphs">50kg</text>
<text x="5.0" y="246.52" class="r" style="font-size:18px;stroke-width:0.35px" textLength="55.0" lengthAdjust="spacingAndGlyphs">52.5kg</text>
<text x="5.0" y="272.16" class="r" style="font-size:18px;stroke-width:0.35px" textLength="40.8" lengthAdjust="spacingAndGlyphs">55kg</text>
<text x="5.0" y="297.8" class="r" style="font-size:18px;stroke-width:0.35px" textLength="55.0" lengthAdjust="spacingAndGlyphs">57.5kg</text>
<text x="5.0" y="323.44" class="r" style="font-size:18px;stroke-width:0.35px" textLength="40.8" lengthAdjust="spacingAndGlyphs">60kg</text>
<text x="5.0" y="349.08" class="r" style="font-size:18px;stroke-width:0.35px" textLength="55.0" lengthAdjust="spacingAndGlyphs">62.5kg</text>
<text x="5.0" y="374.72" class="r" style="font-size:18px;stroke-width:0.35px" textLength="40.8" lengthAdjust="spacingAndGlyphs">65kg</text>
<text x="5.0" y="400.36" class="r" style="font-size:18px;stroke-width:0.35px" textLength="55.0" lengthAdjust="spacingAndGlyphs">67.5kg</text>
<text x="5.0" y="426.0" class="r" style="font-size:18px;stroke-width:0.35px" textLength="40.8" lengthAdjust="spacingAndGlyphs">70kg</text>
<text x="5.0" y="451.64" class="r" style="font-size:18px;stroke-width:0.35px" textLength="55.0" lengthAdjust="spacingAndGlyphs">72.5kg</text>
<text x="5.0" y="477.28" class="r" style="font-size:18px;stroke-width:0.35px" textLength="40.8" lengthAdjust="spacingAndGlyphs">75kg</text>
<text x="5.0" y="502.92" class="r" style="font-size:18px;stroke-width:0.35px" textLength="55.0" lengthAdjust="spacingAndGlyphs">77.5kg</text>
<text x="5.0" y="528.56" class="r" style="font-size:18px;stroke-width:0.35px" textLength="40.8" lengthAdjust="spacingAndGlyphs">80kg</text>
<text x="5.0" y="554.2" class="r" style="font-size:18px;stroke-width:0.35px" textLength="55.0" lengthAdjust="spacingAndGlyphs">82.5kg</text>
<text x="5.0" y="579.84" class="r" style="font-size:18px;stroke-width:0.35px" textLength="40.8" lengthAdjust="spacingAndGlyphs">85kg</text>
<text x="5.0" y="605.48" class="r" style="font-size:18px;stroke-width:0.35px" textLength="55.0" lengthAdjust="spacingAndGlyphs">87.5kg</text>
<text x="5.0" y="631.12" class="r" style="font-size:18px;stroke-width:0.35px" textLength="40.8" lengthAdjust="spacingAndGlyphs">90kg</text>
<text x="5.0" y="656.76" class="r" style="font-size:18px;stroke-width:0.35px" textLength="55.0" lengthAdjust="spacingAndGlyphs">92.5kg</text>
<text x="5.0" y="682.4" class="r" style="font-size:18px;stroke-width:0.35px" textLength="80.3" lengthAdjust="spacingAndGlyphs">95-100kg</text>
<text x="4.0" y="708.04" class="r" style="font-size:18px;stroke-width:0.35px" textLength="91.0" lengthAdjust="spacingAndGlyphs">105-110kg</text>
<text x="4.0" y="733.68" class="r" style="font-size:18px;stroke-width:0.35px" textLength="91.0" lengthAdjust="spacingAndGlyphs">115-125kg</text>
<text x="147.43" y="141.0" class="r" text-anchor="middle" textLength="66.67" lengthAdjust="spacingAndGlyphs">155CM</text>
<text x="234.68" y="141.0" class="r" text-anchor="middle" textLength="66.67" lengthAdjust="spacingAndGlyphs">160CM</text>
<text x="321.93" y="141.0" class="r" text-anchor="middle" textLength="66.67" lengthAdjust="spacingAndGlyphs">165CM</text>
<text x="409.18" y="141.0" class="r" text-anchor="middle" textLength="66.67" lengthAdjust="spacingAndGlyphs">170CM</text>
<text x="496.43" y="141.0" class="r" text-anchor="middle" textLength="66.67" lengthAdjust="spacingAndGlyphs">175CM</text>
<text x="583.67" y="141.0" class="r" text-anchor="middle" textLength="66.67" lengthAdjust="spacingAndGlyphs">180CM</text>
<text x="670.92" y="141.0" class="r" text-anchor="middle" textLength="66.67" lengthAdjust="spacingAndGlyphs">185CM</text>
<text x="758.17" y="141.0" class="r" text-anchor="middle" textLength="66.67" lengthAdjust="spacingAndGlyphs">190CM</text>
<text x="401.8" y="81.0" class="b" font-size="20.5" text-anchor="middle" textLength="110.91" lengthAdjust="spacingAndGlyphs">Size Chart</text>
<text x="420" y="110.9" class="b" font-size="20" textLength="66.31" lengthAdjust="spacingAndGlyphs">Height</text>
<text x="5.2" y="125.8" class="b" font-size="20" textLength="72.0" lengthAdjust="spacingAndGlyphs">Weight</text>
</svg>
</body></html>
